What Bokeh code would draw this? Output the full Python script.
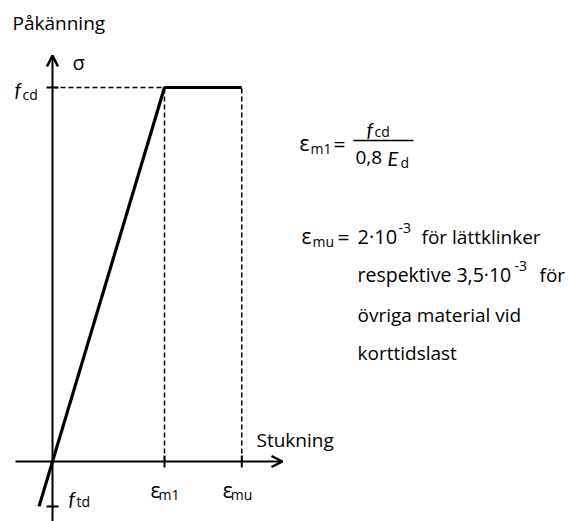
from bokeh.plotting import figure
from bokeh.models import Label, Arrow, OpenHead, ColumnDataSource
from bokeh.embed import file_html
from bokeh.resources import INLINE

# Idealised stress-strain relation for masonry (normalised: eps / eps_m1, sigma / f_cd)
curve_strain = [-0.12, 1.0, 1.69]
curve_stress = [-0.12, 1.0, 1.0]
eps_m1 = 1.0
eps_mu = 1.69
f_cd = 1.0
f_td = -0.12

FONT = "Open Sans"
ITALIC_FONT = "Lato"
W, H = 569, 521

# pixel layout of the diagram (origin position and pixels per unit)
X0, SX = 52, 112
Y0, SY = 461, 374
# labels sit slightly low with an alphabetic baseline; lift them a little
LIFT = 6


def dx(px):
    return (px - X0) / SX


def dy(py):
    return (Y0 - py) / SY


p = figure(width=W, height=H, output_backend="svg", toolbar_location=None,
           x_range=(dx(0), dx(W)), y_range=(dy(H), dy(0)),
           x_axis_type=None, y_axis_type=None, min_border=0)
p.outline_line_color = None
p.grid.visible = False
p.background_fill_color = "white"
p.border_fill_color = "white"

# axes drawn as arrows
p.add_layout(Arrow(end=OpenHead(size=11, line_width=2.5, line_color="black"),
                   x_start=0, y_start=dy(H), x_end=0, y_end=dy(55),
                   line_width=2, line_color="black"))
p.add_layout(Arrow(end=OpenHead(size=11, line_width=2.5, line_color="black"),
                   x_start=dx(15), y_start=0, x_end=dx(282), y_end=0,
                   line_width=2, line_color="black"))

# dashed guide lines
dash = dict(line_color="black", line_width=1.5, line_dash="5 3")
p.line([0, eps_m1], [f_cd, f_cd], **dash)
p.line([eps_m1, eps_m1], [0, f_cd], **dash)
p.line([eps_mu, eps_mu], [0, f_cd], **dash)

# tick marks
tick_w = 6 / SX
tick_h = 6 / SY
for yv in (f_cd, f_td):
    p.line([-tick_w, tick_w], [yv, yv], line_color="black", line_width=2)
for xv in (eps_m1, eps_mu):
    p.line([xv, xv], [-tick_h, tick_h], line_color="black", line_width=2)

# the stress-strain curve
src = ColumnDataSource(dict(x=curve_strain, y=curve_stress))
p.line("x", "y", source=src, line_color="black", line_width=3.2)


def lab(text, x, y, size=19, style="normal", align="left", units="px",
        xo=0, yo=0, font=FONT):
    if units == "px":
        x, y = dx(x), dy(y)
    p.add_layout(Label(x=x, y=y, text=text, text_font=font,
                       text_font_size=f"{size}px", text_font_style=style,
                       text_align=align, text_baseline="alphabetic",
                       text_color="black", x_offset=xo, y_offset=yo + LIFT))


def ital(text, x, y, size=20):
    lab(text, x, y, size=size, style="italic", font=ITALIC_FONT)


# axis titles
lab("Påkänning", 12, 28)
lab("σ", 72, 68, size=20)
lab("Stukning", 256, 445)

# value labels on the axes
ital("f", 14, 94)
lab("cd", 22, 100, size=14)
ital("f", 68, 503)
lab("td", 76, 507, size=14)

lab("ε", eps_m1, 0, units="data", size=21, xo=-14, yo=-34)
lab("m1", eps_m1, 0, units="data", size=14, xo=-6, yo=-39)
lab("ε", eps_mu, 0, units="data", size=21, xo=-19, yo=-34)
lab("mu", eps_mu, 0, units="data", size=14, xo=-11, yo=-39)

# formula for eps_m1
lab("ε", 299, 148, size=21)
lab("m1", 310, 154, size=14)
lab("=", 333, 149, size=21)
p.line([dx(353), dx(413)], [dy(140), dy(140)], line_color="black", line_width=1.5)
ital("f", 366, 134)
lab("cd", 374, 137, size=14)
lab("0,8", 355, 163)
ital("E", 387, 163)
lab("d", 400, 168, size=14)

# ultimate strain description
lab("ε", 301, 241, size=21)
lab("mu", 312, 247, size=14)
lab("=", 337, 242, size=21)
lab("2·10", 357, 242, size=20)
lab("-3", 398, 233, size=14)
lab("för lättklinker", 421, 242)
lab("respektive 3,5·10", 357, 280, size=19.5)
lab("-3", 514, 271, size=14)
lab("för", 539, 280)
lab("övriga material vid", 357, 320)
lab("korttidslast", 357, 358)

open("out.html", "w").write(file_html(p, INLINE))
